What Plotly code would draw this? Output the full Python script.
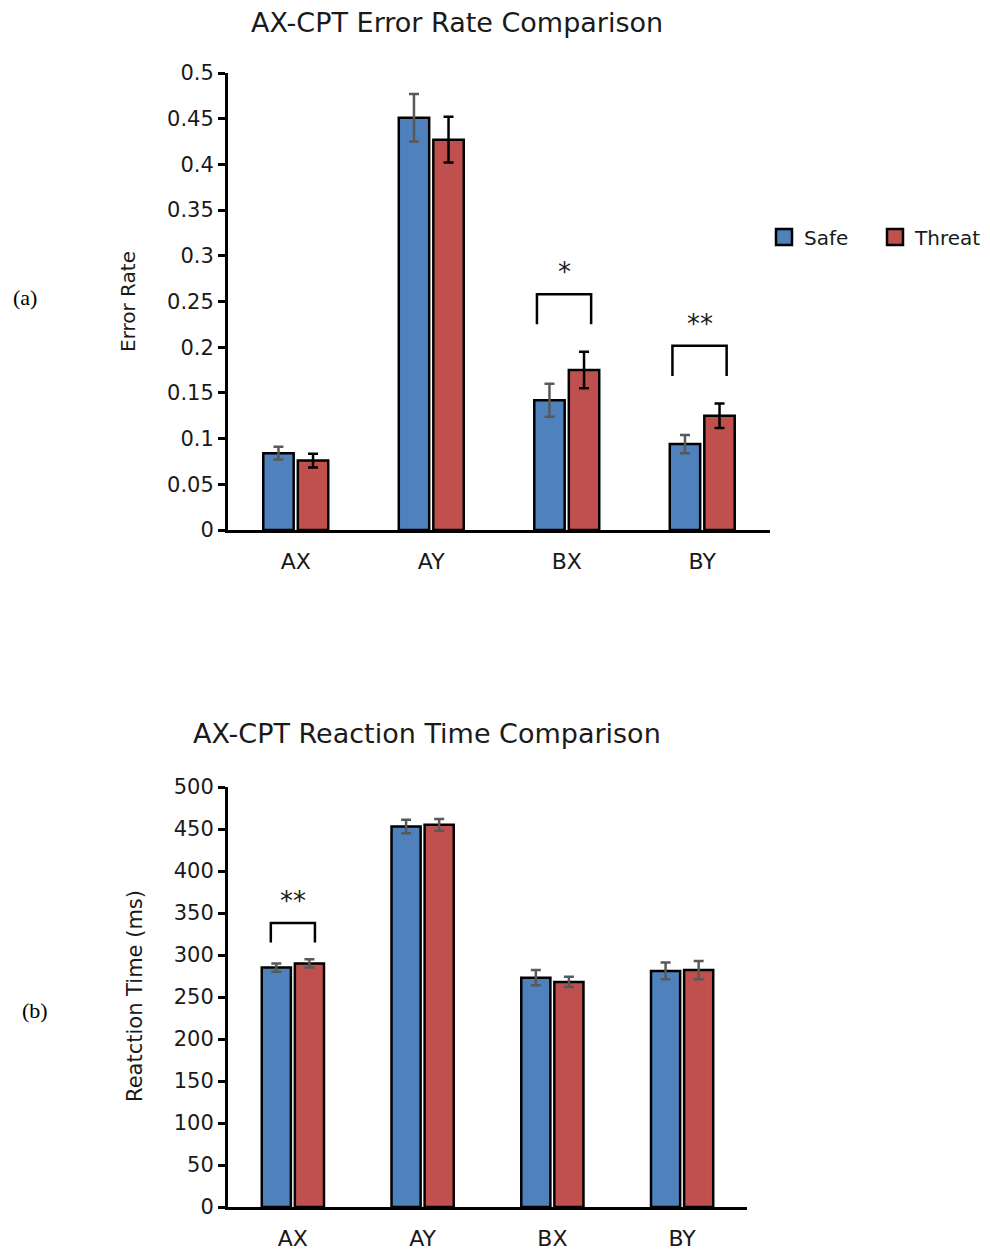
import plotly.graph_objects as go

# page body has an 8px margin; compensate so the picture matches pixel positions
OFF = 8
W, H = 990 - OFF, 1255 - OFF

categories = ["AX", "AY", "BX", "BY"]

# Error rate (top panel)
err_safe = [0.084, 0.451, 0.142, 0.094]
err_safe_se = [0.007, 0.026, 0.018, 0.010]
err_threat = [0.076, 0.427, 0.175, 0.125]
err_threat_se = [0.0075, 0.025, 0.020, 0.0135]
err_sig = [("BX", "*"), ("BY", "**")]

# Reaction time (bottom panel)
rt_safe = [285, 453, 273, 281]
rt_safe_se = [5, 8, 9, 10]
rt_threat = [290, 455, 268, 282]
rt_threat_se = [5, 7, 6, 11]
rt_sig = [("AX", "**")]

err_ticks = [0, 0.05, 0.1, 0.15, 0.2, 0.25, 0.3, 0.35, 0.4, 0.45, 0.5]
err_ticklabels = ["0", "0.05", "0.1", "0.15", "0.2", "0.25", "0.3", "0.35", "0.4", "0.45", "0.5"]
rt_ticks = list(range(0, 501, 50))

BLUE = "#4F81BD"
RED = "#C0504D"
GRAY = "#595959"
FONT = "DejaVu Sans"
TXT = "#1a1a1a"

fig = go.Figure()

def add_bars(xa, ya, safe, safe_se, threat, threat_se, threat_err_color):
    fig.add_trace(go.Bar(
        x=categories, y=safe, name="Safe", xaxis=xa, yaxis=ya,
        marker=dict(color=BLUE, line=dict(color="black", width=2.5)),
        error_y=dict(type="data", array=safe_se, color=GRAY, thickness=2.5, width=5),
        showlegend=False))
    fig.add_trace(go.Bar(
        x=categories, y=threat, name="Threat", xaxis=xa, yaxis=ya,
        marker=dict(color=RED, line=dict(color="black", width=2.5)),
        error_y=dict(type="data", array=threat_se, color=threat_err_color, thickness=2.5, width=5),
        showlegend=False))

add_bars("x", "y", err_safe, err_safe_se, err_threat, err_threat_se, "black")
add_bars("x2", "y2", rt_safe, rt_safe_se, rt_threat, rt_threat_se, GRAY)

# legend entries (square swatches like the original)
for name, col in [("Safe", BLUE), ("Threat", RED)]:
    fig.add_trace(go.Scatter(x=[None], y=[None], mode="markers", name=name,
                             xaxis="x", yaxis="y",
                             marker=dict(symbol="square", size=16, color=col,
                                         line=dict(color="black", width=2.5))))

def add_brackets(sig, xref, yref, safe, safe_se, threat, threat_se, gap, height, left, right):
    for cat, stars in sig:
        i = categories.index(cat)
        top_err = max(safe[i] + safe_se[i], threat[i] + threat_se[i])
        y0 = top_err + gap
        y1 = y0 + height
        x0 = i - left
        x1 = i + right
        fig.add_shape(type="path",
                      path=f"M {x0} {y0} L {x0} {y1} L {x1} {y1} L {x1} {y0}",
                      xref=xref, yref=yref, line=dict(color="black", width=2.5))
        fig.add_annotation(x=(x0 + x1) / 2, y=y1, xref=xref, yref=yref, text=stars,
                           showarrow=False, xanchor="center", yanchor="middle", yshift=22,
                           font=dict(family=FONT, size=26, color=TXT))

add_brackets(err_sig, "x", "y", err_safe, err_safe_se, err_threat, err_threat_se,
             0.03, 0.033, 0.22, 0.18)
add_brackets(rt_sig, "x2", "y2", rt_safe, rt_safe_se, rt_threat, rt_threat_se,
             20, 23, 0.17, 0.17)

def px_x(p):
    return (p - OFF) / W

def px_y(p):
    return 1 - (p - OFF) / H

axis_common = dict(showline=True, linecolor="black", linewidth=3, showgrid=False,
                   zeroline=False, automargin=False)
ytick_font = dict(family=FONT, size=21, color=TXT)
xtick_font = dict(family=FONT, size=22, color=TXT)

fig.update_layout(
    width=W, height=H,
    margin=dict(l=0, r=0, t=0, b=0, pad=0, autoexpand=False),
    paper_bgcolor="white", plot_bgcolor="white",
    barmode="group", bargap=0.49, bargroupgap=0.12,
    font=dict(family=FONT, color=TXT),
    xaxis=dict(domain=[px_x(228), px_x(770)], anchor="y", ticks="", range=[-0.5, 3.5],
               tickfont=xtick_font, ticklabelstandoff=10, **axis_common),
    yaxis=dict(domain=[px_y(530), px_y(73)], anchor="x", range=[0, 0.5],
               tickvals=err_ticks, ticktext=err_ticklabels, tickfont=ytick_font,
               ticks="outside", ticklen=7, tickwidth=3, tickcolor="black", **axis_common),
    xaxis2=dict(domain=[px_x(228), px_x(747)], anchor="y2", ticks="", range=[-0.5, 3.5],
                tickfont=xtick_font, ticklabelstandoff=10, **axis_common),
    yaxis2=dict(domain=[px_y(1207), px_y(787)], anchor="x2", range=[0, 500],
                tickvals=rt_ticks, tickfont=ytick_font,
                ticks="outside", ticklen=7, tickwidth=3, tickcolor="black", **axis_common),
    legend=dict(orientation="h", x=px_x(764), y=px_y(237), xanchor="left", yanchor="middle",
                font=dict(family=FONT, size=20, color=TXT), bgcolor="rgba(0,0,0,0)",
                itemwidth=30, entrywidth=66, entrywidthmode="pixels"),
)

def label(px, py, text, font, angle=0):
    fig.add_annotation(x=px_x(px), y=px_y(py), xref="paper", yref="paper", showarrow=False,
                       xanchor="center", yanchor="middle", text=text, textangle=angle,
                       font=font)

ann_font = dict(family=FONT, size=27, color=TXT)
label(457, 22, "AX-CPT Error Rate Comparison", ann_font)
label(427, 733, "AX-CPT Reaction Time Comparison", ann_font)
label(128, 302, "Error Rate", dict(family=FONT, size=20, color=TXT), -90)
label(135, 996, "Reatction Time (ms)", dict(family=FONT, size=21, color=TXT), -90)
label(25, 297, "(a)", dict(family="Liberation Serif", size=22, color="black"))
label(35, 1010, "(b)", dict(family="Liberation Serif", size=22, color="black"))

fig.write_html("out.html")
